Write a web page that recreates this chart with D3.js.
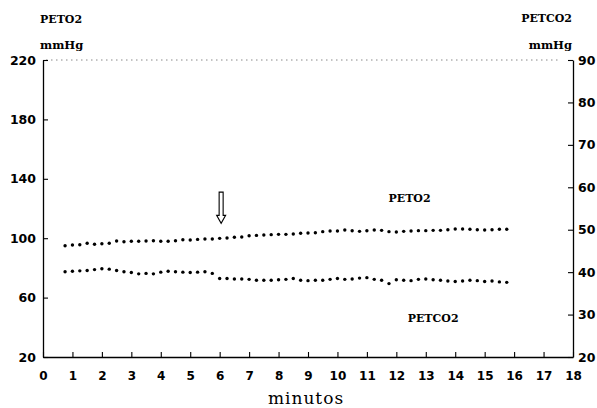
<!DOCTYPE html>
<html><head><meta charset="utf-8">
<script src="https://cdn.jsdelivr.net/npm/d3@7"></script>
<style>body{margin:0;background:#fff}svg{display:block}</style>
</head><body>
<svg id="c" width="597" height="408"></svg>
<script>
const minutes = [0.75,1,1.25,1.5,1.75,2,2.25,2.5,2.75,3,3.25,3.5,3.75,4,4.25,4.5,4.75,5,5.25,5.5,5.75,6,6.25,6.5,6.75,7,7.25,7.5,7.75,8,8.25,8.5,8.75,9,9.25,9.5,9.75,10,10.25,10.5,10.75,11,11.25,11.5,11.75,12,12.25,12.5,12.75,13,13.25,13.5,13.75,14,14.25,14.5,14.75,15,15.25,15.5,15.75];
const peto2 = [94.9,95.4,95.6,96.6,95.9,96.3,96.6,98.1,97.6,97.9,97.9,98.1,98.3,97.9,97.9,98.3,99.0,98.8,99.2,99.5,99.5,99.9,100.1,100.6,100.8,101.7,101.9,102.2,102.4,102.6,102.6,102.8,103.3,103.5,103.7,104.4,104.8,104.8,105.5,105.0,104.6,105.0,105.5,105.3,104.4,104.2,104.6,104.8,105.1,105.1,105.3,105.3,105.7,106.2,106.2,106.0,105.7,105.5,105.7,106.0,106.0];
const petco2 = [40.1,40.2,40.3,40.4,40.6,40.8,40.7,40.4,40.1,39.9,39.6,39.7,39.6,40.0,40.2,40.1,40.0,39.9,40.0,40.1,39.7,38.5,38.5,38.4,38.4,38.3,38.1,38.1,38.1,38.2,38.3,38.5,38.1,38.0,38.1,38.1,38.3,38.5,38.3,38.4,38.6,38.7,38.3,38.1,37.3,38.2,38.1,38.0,38.3,38.4,38.2,38.1,37.9,37.8,37.9,38.1,38.0,37.8,37.9,37.7,37.6];
const xTicks = [0,1,2,3,4,5,6,7,8,9,10,11,12,13,14,15,16,17,18];
const leftTicks = [20,60,100,140,180,220];
const rightTicks = [20,30,40,50,60,70,80,90];
const arrowMinute = 6.05, arrowTop = 131, arrowBottom = 110;
const petoLabel = {t: 12.45, v: 127, text: "PETO2"};
const petcoLabel = {t: 13.25, v: 29.2, text: "PETCO2"};

const svg = d3.select("#c");
const x = d3.scaleLinear().domain([0,18]).range([43,573]);
const yL = d3.scaleLinear().domain([20,220]).range([357,60]);
const yR = d3.scaleLinear().domain([20,90]).range([357,60]);

const numFont = "'DejaVu Sans', sans-serif";
const lblFont = "'DejaVu Serif', serif";

// top dotted border
svg.append("line").attr("x1",x(0)+3).attr("x2",x(18)-12).attr("y1",yL(220)).attr("y2",yL(220))
  .attr("stroke","#888").attr("stroke-width",1).attr("stroke-dasharray","1.5,3.5");

const gx = svg.append("g").attr("transform",`translate(0,${yL(20)})`)
  .call(d3.axisBottom(x).tickValues(xTicks).tickSize(-5).tickSizeOuter(0).tickPadding(14).tickFormat(d3.format("d")));
const gl = svg.append("g").attr("transform",`translate(${x(0)},0)`)
  .call(d3.axisLeft(yL).tickValues(leftTicks).tickSize(-5).tickSizeOuter(0).tickPadding(7).tickFormat(d3.format("d")));
const gr = svg.append("g").attr("transform",`translate(${x(18)},0)`)
  .call(d3.axisRight(yR).tickValues(rightTicks).tickSize(-5).tickSizeOuter(0).tickPadding(5).tickFormat(d3.format("d")));
[gx,gl,gr].forEach(g=>{
  g.select(".domain").attr("stroke","#000").attr("stroke-width",1.3);
  g.selectAll(".tick line").attr("stroke","#000").attr("stroke-width",1.1);
  g.selectAll(".tick text").attr("fill","#000").attr("font-family",numFont).attr("font-weight","bold").attr("font-size",12.5);
});
gx.selectAll(".tick text").attr("font-size",12);

// dots
svg.append("g").selectAll("circle.o2").data(minutes).join("circle")
  .attr("cx",(d)=>x(d)).attr("cy",(d,i)=>yL(peto2[i])).attr("r",1.7).attr("fill","#000");
svg.append("g").selectAll("circle.co2").data(minutes).join("circle")
  .attr("cx",(d)=>x(d)).attr("cy",(d,i)=>yR(petco2[i])).attr("r",1.7).attr("fill","#000");

// arrow
{
  const ax = x(arrowMinute), yt = yL(arrowTop), yb = yL(arrowBottom);
  const sw = 2, hw = 4.5, hh = 8;
  const p = `M${ax-sw},${yt} L${ax+sw},${yt} L${ax+sw},${yb-hh} L${ax+hw},${yb-hh} L${ax},${yb} L${ax-hw},${yb-hh} L${ax-sw},${yb-hh} Z`;
  svg.append("path").attr("d",p).attr("fill","#fff").attr("stroke","#000").attr("stroke-width",1.1);
}

// axis titles
const t = (s,xx,yy,opt={})=>svg.append("text").text(s).attr("x",xx).attr("y",yy)
  .attr("font-family",opt.f||lblFont).attr("font-weight",opt.w||"bold").attr("font-size",opt.s||11)
  .attr("text-anchor",opt.a||"start").attr("letter-spacing",opt.ls||0).attr("fill","#000");
t("PETO2",40,23);
t("mmHg",40,49,{s:11.5});
t("PETCO2",572,22,{a:"end"});
t("mmHg",572,49,{a:"end",s:11.5});
t(petoLabel.text, x(petoLabel.t), yL(petoLabel.v)+4, {a:"middle"});
t(petcoLabel.text, x(petcoLabel.t), yR(petcoLabel.v)+4, {a:"middle"});
t("minutos",306,404,{w:"normal",s:17,a:"middle",ls:1});
</script>
</body></html>
